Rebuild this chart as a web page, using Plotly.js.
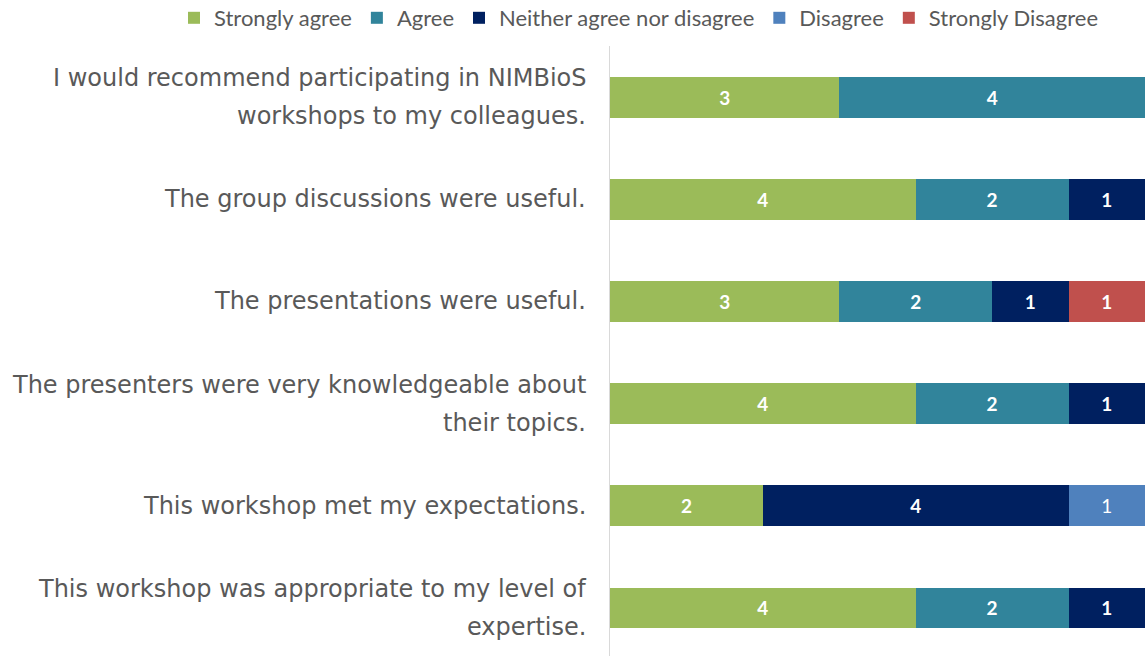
<!DOCTYPE html>
<html>
<head>
<meta charset="utf-8">
<script src="https://cdn.plot.ly/plotly-3.0.1.min.js"></script>
<style>html,body{margin:0;padding:0;background:#fff;}#chart{width:1145px;height:656px;}</style>
</head>
<body>
<div id="chart"></div>
<script>
var categories = [
  "I would recommend participating in NIMBioS workshops to my colleagues.",
  "The group discussions were useful.",
  "The presentations were useful.",
  "The presenters were very knowledgeable about their topics.",
  "This workshop met my expectations.",
  "This workshop was appropriate to my level of expertise."
];
var labelLines = [
  ["I would recommend participating in NIMBioS", "workshops to my colleagues."],
  ["The group discussions were useful."],
  ["The presentations were useful."],
  ["The presenters were very knowledgeable about", "their topics."],
  ["This workshop met my expectations."],
  ["This workshop was appropriate to my level of", "expertise."]
];
var seriesNames = ["Strongly agree", "Agree", "Neither agree nor disagree", "Disagree", "Strongly Disagree"];
var stronglyAgree = [3, 4, 3, 4, 2, 4];
var agree = [4, 2, 2, 2, null, 2];
var neither = [null, 1, 1, 1, 4, 1];
var disagree = [null, null, null, null, 1, null];
var stronglyDisagree = [null, null, 1, null, null, null];
var seriesValues = [stronglyAgree, agree, neither, disagree, stronglyDisagree];
var colors = ["#9BBB59", "#31849B", "#002060", "#4F81BD", "#C0504D"];
var weights = ["bold", "bold", "bold", "normal", "bold"];

var traces = seriesValues.map(function (vals, i) {
  return {
    type: "bar",
    orientation: "h",
    name: seriesNames[i],
    y: categories,
    x: vals,
    marker: {color: colors[i], line: {width: 0}},
    width: 0.4,
    text: vals.map(function (v) { return v == null ? "" : String(v); }),
    textposition: "inside",
    insidetextanchor: "middle",
    constraintext: "none",
    textfont: {family: "Lato, 'Open Sans', sans-serif", size: 19, color: "#ffffff", weight: weights[i]},
    hoverinfo: "skip"
  };
});

var annotations = [];
labelLines.forEach(function (lines, ci) {
  var n = lines.length;
  lines.forEach(function (ln, li) {
    var offset = (n === 1) ? 0 : (li === 0 ? 19 : -19);
    annotations.push({
      xref: "paper", yref: "y",
      x: 0, y: categories[ci],
      xanchor: "right", yanchor: "middle",
      xshift: -22, yshift: offset,
      text: ln, showarrow: false,
      font: {family: "'DejaVu Sans', Verdana, sans-serif", size: 24, color: "#595959"}
    });
  });
});

var plotW = 1145 - 610;
var plotH = 656 - 46;

var layout = {
  width: 1145, height: 656,
  margin: {l: 610, r: 0, t: 46, b: 0, pad: 0, autoexpand: false},
  barmode: "stack",
  paper_bgcolor: "#ffffff",
  plot_bgcolor: "#ffffff",
  showlegend: true,
  legend: {
    orientation: "h",
    x: (174 - 610) / plotW, xanchor: "left",
    y: 1 + 28 / plotH, yanchor: "middle",
    font: {family: "Lato, 'Open Sans', sans-serif", size: 22, color: "#595959"},
    itemwidth: 30,
    traceorder: "normal",
    bgcolor: "rgba(0,0,0,0)"
  },
  xaxis: {
    range: [0, 7],
    showgrid: false, zeroline: false, showticklabels: false, ticks: "",
    showline: false, fixedrange: true
  },
  yaxis: {
    type: "category",
    categoryorder: "array",
    categoryarray: categories,
    range: [5.47, -0.5],
    showticklabels: false, ticks: "",
    showgrid: false, zeroline: false,
    showline: true, linecolor: "#D9D9D9", linewidth: 1.5,
    fixedrange: true
  },
  annotations: annotations
};

Plotly.newPlot("chart", traces, layout, {displayModeBar: false, staticPlot: true});
</script>
</body>
</html>
